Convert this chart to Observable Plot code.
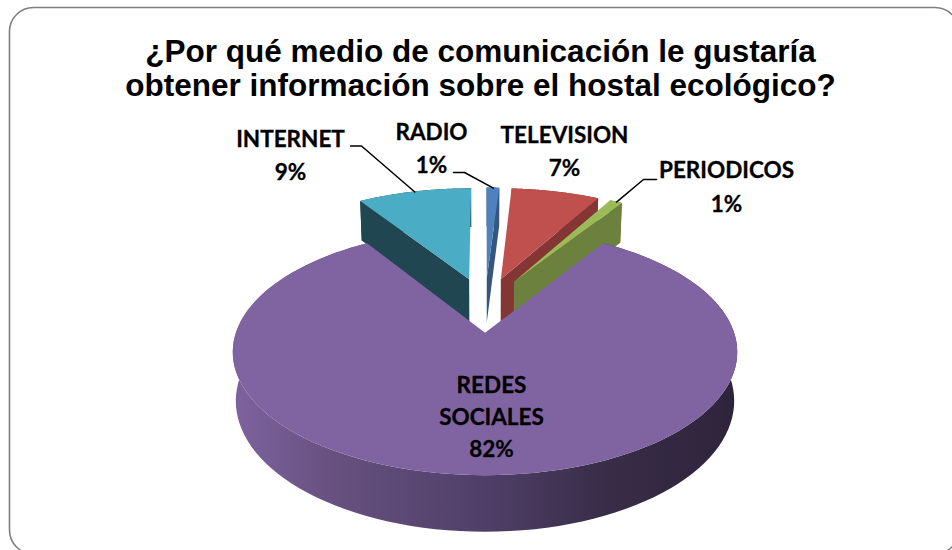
<!DOCTYPE html>
<html lang="es">
<head>
<meta charset="utf-8">
<script src="https://cdn.jsdelivr.net/npm/d3@7"></script>
<script src="https://cdn.jsdelivr.net/npm/@observablehq/plot@0.6"></script>
<style>
  html, body { margin: 0; padding: 0; background: #fff; overflow: hidden; }
  svg { display: block; }
</style>
</head>
<body>
<div id="chart"></div>
<script>
// Survey answers, in clockwise order starting at twelve o'clock.
const medios = ["RADIO", "TELEVISION", "PERIODICOS", "REDES SOCIALES", "INTERNET"];
const porcentajes = [1, 7, 1, 82, 9];
const caraSuperior = ["#4f81bd", "#c0504d", "#9bbb59", "#8064a2", "#4bacc6"];
const caraLateral = ["#35567f", "#843634", "#6b813d", "#8064a2", "#1f4651"];
const titulo = ["¿Por qué medio de comunicación le gustaría", "obtener información sobre el hostal ecológico?"];

// Pie model, in units of one slice radius.
const W = 952, H = 550;
const explode = 0.245;
const camera = {cx: 485, cy: 304.5, ax: 240, ay: 111.5, persp: 0.15, depth: 46 / 111.5, taper: 0.012};

const pie = d3.pie().sort(null).startAngle(0).endAngle(2 * Math.PI)(porcentajes);

// Perspective projection: u runs right, v runs away from the viewer, z is 0 on the top face and 1 underneath.
function project(u, v, z = 0) {
  const w = 1 + camera.persp * v;
  return {x: (u / w) * (1 - camera.taper * z), y: (v - camera.depth * z) / w};
}

const slices = pie.map((p, i) => {
  const mid = (p.startAngle + p.endAngle) / 2;
  const o = {u: explode * Math.sin(mid), v: explode * Math.cos(mid)};
  const rim = (a, z = 0, r = 1) => project(o.u + r * Math.sin(a), o.v + r * Math.cos(a), z);
  const angles = d3.range(0, 121).map((k) => p.startAngle + (p.endAngle - p.startAngle) * k / 120);
  return {i, name: medios[i], value: porcentajes[i], top: caraSuperior[i], side: caraLateral[i], mid, o, rim, angles,
          start: p.startAngle, end: p.endAngle};
});

// Each band is a run of {x1, y1, x2, y2} joined by Plot.area.
const faceBand = (s) => s.angles.map((a) => {
  const c = project(s.o.u, s.o.v), e = s.rim(a);
  return {x1: c.x, y1: c.y, x2: e.x, y2: e.y};
});
const rimBand = (s) => s.angles.map((a) => {
  const t = s.rim(a), b = s.rim(a, 1);
  return {x1: t.x, y1: t.y, x2: b.x, y2: b.y};
});
const cutBand = (s, a) => [0, 1].map((r) => {
  const t = s.rim(a, 0, r), b = s.rim(a, 1, r);
  return {x1: t.x, y1: t.y, x2: b.x, y2: b.y};
});

const band = (data, fill) => Plot.area(data, {x1: "x1", y1: "y1", x2: "x2", y2: "y2", fill, curve: "linear"});

// Painted back to front: the large slice goes last so that it covers the others' lower corners.
const paintOrder = [4, 0, 1, 2, 3].map((i) => slices[i]);
const sliceMarks = paintOrder.flatMap((s) => {
  const isLarge = s.value > 50;
  const cut = s.mid > Math.PI ? s.start : s.end;
  return [
    isLarge ? null : band(cutBand(s, cut), s.side),
    band(rimBand(s), isLarge ? "url(#paredRedes)" : s.side),
    band(faceBand(s), s.top)
  ];
});

// Pixel positions of the annotations, expressed in the chart's own units.
const fromPx = (px, py) => ({x: (px - camera.cx) / camera.ax, y: (camera.cy - py) / camera.ay});
const at = (px, py, text) => ({...fromPx(px, py), text});

const pct = (i) => `${porcentajes[i]}%`;
const etiquetas = [
  at(290, 139, "INTERNET"), at(290, 172, pct(4)),
  at(431, 132, "RADIO"), at(431, 165, pct(0)),
  at(564, 135, "TELEVISION"), at(564, 168, pct(1)),
  at(726, 170.5, "PERIODICOS"), at(726, 204, pct(2)),
  at(491, 385, "REDES"), at(491, 417, "SOCIALES"), at(491, 449, pct(3))
];

// Leader lines run from a point on the slice's outer edge to an elbow beside its label.
const leader = (i, elbowPx, endPx) => {
  const e = slices[i].rim(slices[i].mid);
  return [fromPx(...endPx), fromPx(...elbowPx), {x: e.x, y: e.y}].map((p) => ({...p, k: medios[i]}));
};
const guias = [
  ...leader(4, [361, 145.5], [350, 145.5]),
  ...leader(0, [464, 172], [453, 172]),
  ...leader(2, [643, 179], [656, 179])
];

const titleLines = titulo.map((t, k) => at(480, k === 0 ? 51 : 85, t));

// Soft horizontal shading for the outer wall of the large slice.
const defs = () => {
  const d = d3.create("svg:defs");
  const g = d.append("linearGradient").attr("id", "paredRedes").attr("x1", 0).attr("x2", 1).attr("y1", 0).attr("y2", 0);
  [[0, "#7e629f"], [0.2, "#67517f"], [0.5, "#4f3f68"], [0.75, "#382c47"], [1, "#2e243a"]]
    .forEach(([o, c]) => g.append("stop").attr("offset", o).attr("stop-color", c));
  return d.node();
};

const chart = Plot.plot({
  width: W, height: H, margin: 0,
  style: {background: "#fff"},
  x: {domain: [-camera.cx / camera.ax, (W - camera.cx) / camera.ax], range: [0, W], axis: null},
  y: {domain: [(camera.cy - H) / camera.ay, camera.cy / camera.ay], range: [H, 0], axis: null},
  marks: [
    defs,
    Plot.rect([{...fromPx(9.5, 7.5), x2: fromPx(959, 7.5).x, y2: fromPx(9.5, 554).y}], {
      x1: "x", y1: "y", x2: "x2", y2: "y2", fill: "#fff", stroke: "#7f7f7f", strokeWidth: 1.6, rx: 24
    }),
    ...sliceMarks.filter(Boolean),
    Plot.line(guias, {x: "x", y: "y", z: "k", stroke: "#000", strokeWidth: 1.5, curve: "linear"}),
    Plot.text(titleLines, {x: "x", y: "y", text: "text", fontFamily: "Liberation Sans", fontWeight: "bold", fontSize: 31.5, fill: "#000"}),
    Plot.text(etiquetas, {x: "x", y: "y", text: "text", fontFamily: "Lato", fontWeight: "bold", fontSize: 22.5, fill: "#000", stroke: "#000", strokeWidth: 0.3})
  ]
});
document.getElementById("chart").appendChild(chart);
</script>
</body>
</html>
